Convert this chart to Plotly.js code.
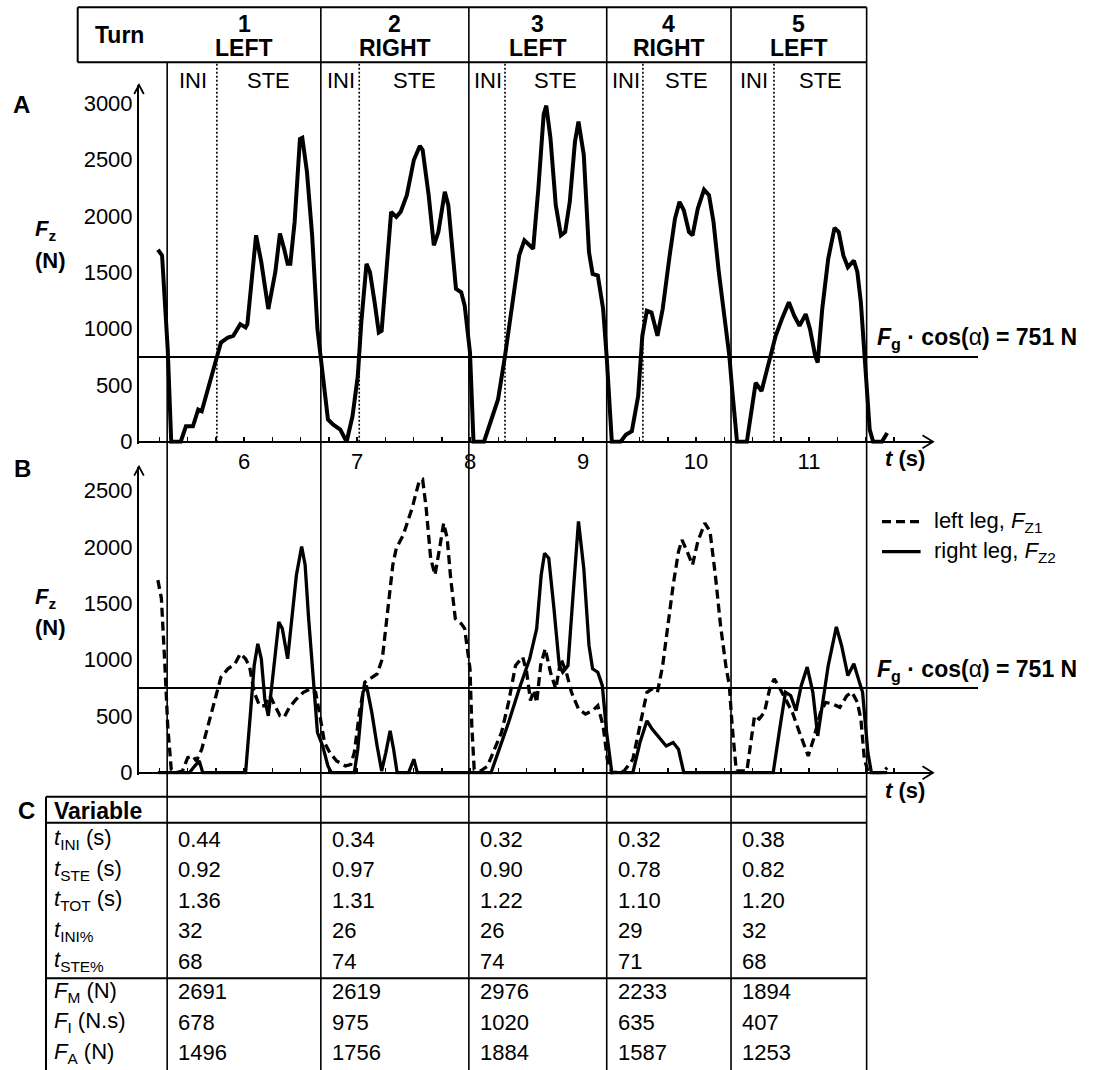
<!DOCTYPE html>
<html>
<head>
<meta charset="utf-8">
<script src="https://cdn.plot.ly/plotly-3.0.1.min.js"></script>
<style>html,body{margin:0;padding:0;background:#fff;}#chart{width:1094px;height:1070px;}</style>
</head>
<body>
<div id="chart"></div>
<script>
// ---------------- DATA ----------------
// Panel A: total vertical force Fz (N) vs time t (s)
const tA = [
5.238,5.275,5.325,5.356,5.44,5.486,5.548,5.595,5.626,5.672,
5.765,5.796,5.858,5.905,5.967,6.014,6.03,6.107,6.153,6.215,
6.277,6.318,6.355,6.386,6.41,6.448,6.495,6.516,6.557,6.603,
6.65,6.696,6.743,6.79,6.852,6.908,6.96,7.007,7.038,7.084,
7.115,7.156,7.193,7.218,7.255,7.302,7.348,7.386,7.441,7.503,
7.556,7.581,7.634,7.68,7.72,7.777,7.808,7.845,7.876,7.922,
7.953,8.0,8.031,8.124,8.186,8.248,8.31,8.372,8.435,8.481,
8.528,8.559,8.605,8.652,8.675,8.712,8.759,8.805,8.842,8.883,
8.929,8.96,9.007,9.053,9.085,9.131,9.178,9.209,9.255,9.333,
9.379,9.432,9.488,9.525,9.565,9.606,9.659,9.705,9.767,9.814,
9.854,9.892,9.938,9.969,10.016,10.071,10.115,10.155,10.202,10.248,
10.295,10.32,10.363,10.45,10.497,10.528,10.58,10.621,10.667,10.705,
10.76,10.822,10.869,10.916,10.971,11.009,11.055,11.077,11.117,11.17,
11.226,11.263,11.304,11.344,11.397,11.428,11.459,11.49,11.537,11.568,
11.645,11.692];
const fA = [
1700,1650,819,0,0,136,136,285,270,433,
790,878,923,938,1041,1012,1041,1828,1590,1175,
1501,1843,1709,1575,1575,1946,2680,2691,2391,1828,
997,611,196,151,107,0,225,581,1056,1575,
1501,1234,967,982,1472,2035,1991,2035,2184,2495,
2619,2584,2184,1739,1857,2213,2095,1679,1353,1323,
1205,789,0,0,196,374,760,1205,1650,1783,
1739,1709,2243,2900,2976,2688,2095,1828,1857,2124,
2658,2836,2540,1679,1486,1472,1175,760,0,0,
62,92,403,938,1160,1145,938,1175,1650,1976,
2124,2050,1857,1828,2065,2233,2184,1946,1501,1116,
760,463,0,0,344,522,448,611,789,938,
1086,1234,1116,1027,1130,997,760,700,1175,1620,
1894,1857,1650,1546,1605,1501,1234,760,107,0,
0,77];

// Panel B: left leg Fz1 (dashed)
const tL = [
5.238,5.269,5.3,5.325,5.356,5.393,5.455,5.502,5.548,5.579,
5.626,5.688,5.75,5.796,5.858,5.92,5.967,6.014,6.05,6.09,
6.138,6.184,6.23,6.277,6.318,6.355,6.402,6.464,6.526,6.588,
6.634,6.672,6.712,6.759,6.82,6.898,6.945,6.976,7.022,7.069,
7.131,7.178,7.224,7.271,7.317,7.348,7.41,7.488,7.55,7.581,
7.612,7.652,7.69,7.736,7.767,7.798,7.829,7.87,7.922,7.953,
8.0,8.016,8.037,8.093,8.155,8.217,8.279,8.341,8.403,8.466,
8.5,8.535,8.565,8.59,8.625,8.666,8.712,8.759,8.805,8.852,
8.898,8.96,9.022,9.085,9.131,9.178,9.215,9.255,9.364,9.441,
9.504,9.566,9.612,9.659,9.705,9.752,9.798,9.845,9.876,9.922,
9.969,10.016,10.078,10.124,10.171,10.217,10.264,10.295,10.32,10.357,
10.45,10.481,10.518,10.559,10.605,10.652,10.692,10.73,10.792,10.853,
10.916,10.993,11.04,11.102,11.148,11.21,11.273,11.335,11.381,11.428,
11.459,11.49,11.521,11.568,11.645,11.692];
const fL = [
1706,1543,949,415,30,0,15,134,148,104,
208,445,682,846,920,964,1053,1009,935,712,
593,593,682,593,504,490,579,653,712,742,
712,504,267,178,104,59,74,178,534,801,
846,875,1009,1454,1840,1988,2107,2344,2581,2596,
2344,1899,1751,2018,2211,2077,1721,1365,1320,1276,
920,415,30,15,59,208,356,623,949,1024,
900,640,730,620,950,1098,890,742,1009,890,
712,564,519,549,593,415,119,0,15,119,
415,712,742,712,949,1335,1662,1958,2062,1958,
1840,2047,2211,2136,1751,1305,949,771,415,15,
15,237,504,475,534,742,831,771,653,534,
356,148,297,534,623,608,579,682,712,623,
475,119,15,0,0,45];

// Panel B: right leg Fz2 (solid)
const tR = [
5.238,5.517,5.564,5.604,5.635,6.014,6.06,6.09,6.122,6.153,
6.184,6.215,6.246,6.277,6.308,6.339,6.386,6.417,6.464,6.51,
6.541,6.572,6.619,6.65,6.696,6.743,6.774,6.976,7.007,7.053,
7.084,7.131,7.178,7.218,7.255,7.293,7.324,7.355,7.457,7.503,
7.534,8.186,8.248,8.341,8.435,8.528,8.59,8.63,8.66,8.697,
8.743,8.79,8.821,8.867,8.914,8.96,9.007,9.053,9.085,9.131,
9.171,9.209,9.255,9.441,9.504,9.566,9.612,9.674,9.736,9.798,
9.845,9.892,10.683,10.745,10.792,10.838,10.885,10.931,10.984,11.034,
11.077,11.117,11.17,11.242,11.288,11.344,11.397,11.437,11.474,11.521,
11.552,11.692];
const fR = [
0,0,59,104,0,0,564,949,1142,1009,
653,504,771,1068,1335,1276,1009,1305,1751,2003,
1840,1365,712,356,237,59,0,0,208,712,
771,534,237,15,178,371,208,0,0,119,
0,0,178,445,742,1009,1276,1751,1943,1899,
1454,949,890,949,1602,2225,1810,1127,920,890,
771,356,0,0,267,460,386,312,237,267,
208,0,0,415,712,682,549,771,935,712,
326,593,949,1291,1127,860,964,831,712,178,
0,0];

const threshold = 751;                 // Fg·cos(α) (N)
const yTicksA = [0,500,1000,1500,2000,2500,3000];
const yTicksB = [0,500,1000,1500,2000,2500];
const xTickVals = [6,7,8,9,10,11];
const xTickText = ['6','7','8','9','10','11'];

// Table C
const turnNum = ['1','2','3','4','5'];
const turnDir = ['LEFT','RIGHT','LEFT','RIGHT','LEFT'];
const firstTurnStart = 5.32;
const tINI = [0.44,0.34,0.32,0.32,0.38];
const tSTE = [0.92,0.97,0.90,0.78,0.82];
const tTOT = [1.36,1.31,1.22,1.10,1.20];
const tINIpct = [32,26,26,29,32];
const tSTEpct = [68,74,74,71,68];
const FM = [2691,2619,2976,2233,1894];
const FI = [678,975,1020,635,407];
const FAv = [1496,1756,1884,1587,1253];
const rowLabels = ['<i>t</i><sub>INI</sub> (s)','<i>t</i><sub>STE</sub> (s)','<i>t</i><sub>TOT</sub> (s)',
  '<i>t</i><sub>INI%</sub>','<i>t</i><sub>STE%</sub>','<i>F</i><sub>M</sub> (N)','<i>F</i><sub>I</sub> (N.s)','<i>F</i><sub>A</sub> (N)'];

// ---------------- LAYOUT HELPERS ----------------
const W = 1094, H = 1070;
const FONT = 'Liberation Sans, Arial, Helvetica, sans-serif';
const X0PX = 139, X1PX = 933;
const T0 = 5.0708, T1 = 12.0973;
const xp = px => px / W;
const yp = py => 1 - py / H;
const tpx = t => X0PX + (t - T0) / (T1 - T0) * (X1PX - X0PX);

// turn boundaries derived from table
const turnStart = [firstTurnStart];
tTOT.forEach((d, i) => turnStart.push(+(turnStart[i] + d).toFixed(3)));
const iniEnd = tINI.map((d, i) => turnStart[i] + d);
const rightPx = tpx(turnStart[5]);

const shapes = [];
const ann = [];
const line = (x0, y0, x1, y1, w, extra) => shapes.push(Object.assign({type:'line', xref:'paper', yref:'paper',
  x0:xp(x0), y0:yp(y0), x1:xp(x1), y1:yp(y1), line:{color:'black', width:w}}, extra || {}));
const text = (s, x, y, o) => ann.push(Object.assign({text:s, xref:'paper', yref:'paper', x:xp(x), y:yp(y),
  showarrow:false, xanchor:'center', yanchor:'middle', font:{family:FONT, size:22, color:'black'}}, o || {}));
const bold23 = {family:FONT, size:23, color:'black'};

// header box
line(77.7, 7.3, rightPx, 7.3, 2);
line(77.7, 62.3, rightPx, 62.3, 2);
line(77.7, 7.3, 77.7, 62.3, 2);
// turn boundary lines
turnStart.forEach((t, i) => {
  shapes.push({type:'line', xref:'x', yref:'paper', x0:t, x1:t, y0:yp(H), y1:yp(i === 0 ? 62.3 : 7.3),
    line:{color:'black', width:1.6}});
});
// INI/STE dotted lines (panel A only)
iniEnd.forEach(t => shapes.push({type:'line', xref:'x', yref:'paper', x0:t, x1:t, y0:yp(441.7), y1:yp(62.3),
  line:{color:'black', width:1.6, dash:'2px,2px'}}));
// threshold lines
shapes.push({type:'line', xref:'paper', yref:'y', x0:xp(139), x1:xp(978), y0:threshold, y1:threshold, line:{color:'black', width:2}});
shapes.push({type:'line', xref:'paper', yref:'y2', x0:xp(139), x1:xp(978), y0:threshold, y1:threshold, line:{color:'black', width:2}});
// arrowheads
const path = pts => 'M ' + pts.map(p => xp(p[0]) + ',' + yp(p[1])).join(' L ');
[[85, 441.7], [466.7, 772.7]].forEach(([top, base]) => {
  shapes.push({type:'path', xref:'paper', yref:'paper', path:path([[134.2, top + 9], [139, top], [143.8, top + 9]]), line:{color:'black', width:1.8}});
  shapes.push({type:'path', xref:'paper', yref:'paper', path:path([[922.5, base - 6.5], [933, base], [922.5, base + 6.5]]), line:{color:'black', width:1.8}});
});
// legend samples
line(882, 521.7, 920.6, 521.7, 3.3, {line:{color:'black', width:3.3, dash:'9px,5px'}});
line(882, 551.7, 920.6, 551.7, 3.3);
// table C lines
line(46, 796.7, rightPx, 796.7, 2);
line(46, 822.7, rightPx, 822.7, 2);
line(46, 978.3, rightPx, 978.3, 2);
line(46, 796.7, 46, H, 2);

// texts
text('<b>A</b>', 21, 105, {font:{family:FONT, size:24, color:'black'}});
text('<b>B</b>', 22, 469, {font:{family:FONT, size:24, color:'black'}});
text('<b>C</b>', 26, 810, {font:{family:FONT, size:24, color:'black'}});
[[230, 260], [598, 627]].forEach(([a, b]) => {
  text('<b><i>F</i><sub>z</sub></b>', 33, a, {xanchor:'left'});
  text('<b>(N)</b>', 33, b, {xanchor:'left'});
});
text('<b>Turn</b>', 119, 35, {font:bold23});
turnNum.forEach((s, i) => {
  const c = (tpx(turnStart[i]) + tpx(turnStart[i + 1])) / 2;
  text('<b>' + s + '</b>', c, 23.5, {font:bold23});
  text('<b>' + turnDir[i] + '</b>', c, 48.3, {font:bold23});
  text('INI', (tpx(turnStart[i]) + tpx(iniEnd[i])) / 2 + 1, 80);
  text('STE', (tpx(iniEnd[i]) + tpx(turnStart[i + 1])) / 2, 80);
});
const thrLabel = '<b><i>F</i><sub>g</sub> · cos(</b>α<b>) = ' + threshold + ' N</b>';
text(thrLabel, 875, 338, {xanchor:'left', font:bold23});
text(thrLabel, 875, 670, {xanchor:'left', font:bold23});
text('<b><i>t</i> (s)</b>', 905, 458);
text('<b><i>t</i> (s)</b>', 905, 790);
text('left leg, <i>F</i><sub>Z1</sub>', 932, 521.7, {xanchor:'left'});
text('right leg, <i>F</i><sub>Z2</sub>', 932, 551.7, {xanchor:'left'});

text('<b>Variable</b>', 51.5, 810.5, {xanchor:'left', font:bold23});
const rows = [tINI.map(v => v.toFixed(2)), tSTE.map(v => v.toFixed(2)), tTOT.map(v => v.toFixed(2)),
  tINIpct.map(String), tSTEpct.map(String), FM.map(String), FI.map(String), FAv.map(String)];
const rowY = [839, 869.5, 900, 930.5, 961, 991.5, 1022, 1052.5];
rows.forEach((vals, r) => {
  text(rowLabels[r], 51.5, rowY[r], {xanchor:'left'});
  vals.forEach((v, c) => text(v, tpx(turnStart[c]) + 9, rowY[r], {xanchor:'left'}));
});

// minor ticks every 0.25 s
const minorT = [];
for (let k = 21; k <= 48; k++) { if (k % 4 !== 0) minorT.push(k / 4); }

const axFont = {family:FONT, size:22, color:'black'};
const xBase = {range:[T0, T1], domain:[xp(X0PX), xp(X1PX)], anchor:'free', showline:true, linecolor:'black', linewidth:2,
  tickmode:'array', tickvals:xTickVals, ticktext:xTickText, ticks:'inside', ticklen:4, tickwidth:1.5, tickcolor:'black',
  minor:{tickmode:'array', tickvals:minorT, ticks:'inside', ticklen:4, tickwidth:1.5, tickcolor:'black', showgrid:false},
  tickfont:axFont, showgrid:false, zeroline:false, fixedrange:true};
const yBase = {showline:true, linecolor:'black', linewidth:2, ticks:'', tickfont:axFont, showgrid:false, zeroline:false, fixedrange:true};

const layout = {
  width:W, height:H, margin:{l:0, r:0, t:0, b:0}, paper_bgcolor:'white', plot_bgcolor:'rgba(0,0,0,0)',
  showlegend:false, font:{family:FONT, color:'black'},
  xaxis:Object.assign({}, xBase, {position:yp(441.7)}),
  yaxis:Object.assign({}, yBase, {anchor:'x', domain:[yp(441.7 + 18 * 0.11291), yp(85)], range:[-18, 3159], tickvals:yTicksA}),
  xaxis2:Object.assign({}, xBase, {position:yp(772.7), showticklabels:false}),
  yaxis2:Object.assign({}, yBase, {anchor:'x2', domain:[yp(772.7 + 18 * 0.11291), yp(466.7)], range:[-18, 2710], tickvals:yTicksB}),
  shapes:shapes, annotations:ann
};

const traces = [
  {x:tA, y:fA, xaxis:'x', yaxis:'y', mode:'lines', line:{color:'black', width:4}, name:'F_z', hoverinfo:'skip'},
  {x:tL, y:fL, xaxis:'x2', yaxis:'y2', mode:'lines', line:{color:'black', width:3.3, dash:'9px,5px'}, name:'left leg', hoverinfo:'skip'},
  {x:tR, y:fR, xaxis:'x2', yaxis:'y2', mode:'lines', line:{color:'black', width:3.3}, name:'right leg', hoverinfo:'skip'}
];
Plotly.newPlot('chart', traces, layout, {staticPlot:true, displayModeBar:false});
</script>
</body>
</html>
